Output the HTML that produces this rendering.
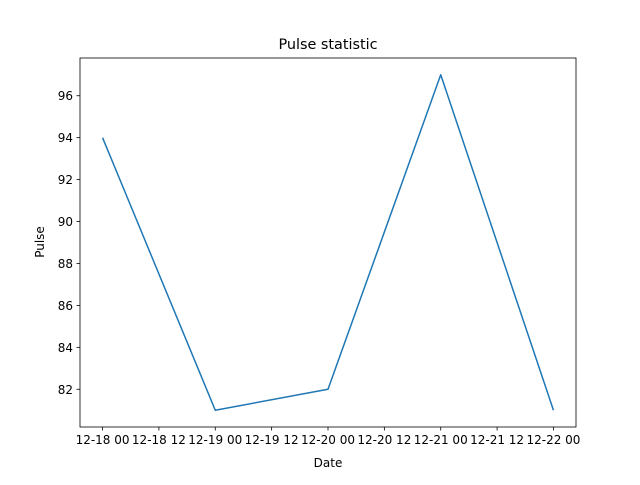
<!DOCTYPE html>
<html><head><meta charset="utf-8"><style>
html,body{margin:0;padding:0;background:#fff;}
svg text{font-family:"DejaVu Sans","Liberation Sans",sans-serif;}
</style></head><body>
<svg id="chart" width="640" height="480" xmlns="http://www.w3.org/2000/svg">
<rect width="640" height="480" fill="#fff"/>
<text x="328" y="49" font-size="14.4" text-anchor="middle">Pulse statistic</text>
<g id="ticks"></g>
<polyline id="series" fill="none" stroke="#1f77b4" stroke-width="1.5" stroke-linejoin="round"/>
<rect x="80" y="58" width="496" height="369" fill="none" stroke="#000" stroke-width="0.8"/>
<text x="328" y="467" font-size="12" text-anchor="middle">Date</text>
<text transform="translate(44,242) rotate(-90)" font-size="12" text-anchor="middle">Pulse</text>
</svg>
<script>
const dayIndex = [0, 1, 2, 3, 4];
const pulseValues = [94, 81, 82, 97, 81];
const xTickLabels = ["12-18 00","12-18 12","12-19 00","12-19 12","12-20 00","12-20 12","12-21 00","12-21 12","12-22 00"];
const yTickValues = [82, 84, 86, 88, 90, 92, 94, 96];

const L=80,R=576,T=58,B=427;
const xmin=-0.2,xmax=4.2,ymin=80.2,ymax=97.8;
function xs(v){return L+(v-xmin)/(xmax-xmin)*(R-L);}
function ys(v){return B-(v-ymin)/(ymax-ymin)*(B-T);}
const NS="http://www.w3.org/2000/svg";
const g=document.getElementById('ticks');
xTickLabels.forEach((lab,i)=>{
  const x=xs(i*0.5);
  const l=document.createElementNS(NS,'line');
  l.setAttribute('x1',x);l.setAttribute('x2',x);l.setAttribute('y1',B);l.setAttribute('y2',B+3.5);
  l.setAttribute('stroke','#000');l.setAttribute('stroke-width','0.8');
  
  
  g.appendChild(l);
  const t=document.createElementNS(NS,'text');
  t.setAttribute('x',x);t.setAttribute('y',B+17);t.setAttribute('font-size','12');t.setAttribute('text-anchor','middle');
  t.textContent=lab;
  
  
  g.appendChild(t);
});
yTickValues.forEach(v=>{
  const y=ys(v);
  const l=document.createElementNS(NS,'line');
  l.setAttribute('x1',L-3.5);l.setAttribute('x2',L);l.setAttribute('y1',y);l.setAttribute('y2',y);
  l.setAttribute('stroke','#000');l.setAttribute('stroke-width','0.8');
  
  
  g.appendChild(l);
  const t=document.createElementNS(NS,'text');
  t.setAttribute('x',L-7);t.setAttribute('y',y+4.5);t.setAttribute('font-size','12');t.setAttribute('text-anchor','end');
  t.textContent=v;
  
  
  g.appendChild(t);
});
document.getElementById('series').setAttribute('points',
  dayIndex.map((d,i)=>xs(d)+','+ys(pulseValues[i])).join(' '));
</script>
</body></html>
